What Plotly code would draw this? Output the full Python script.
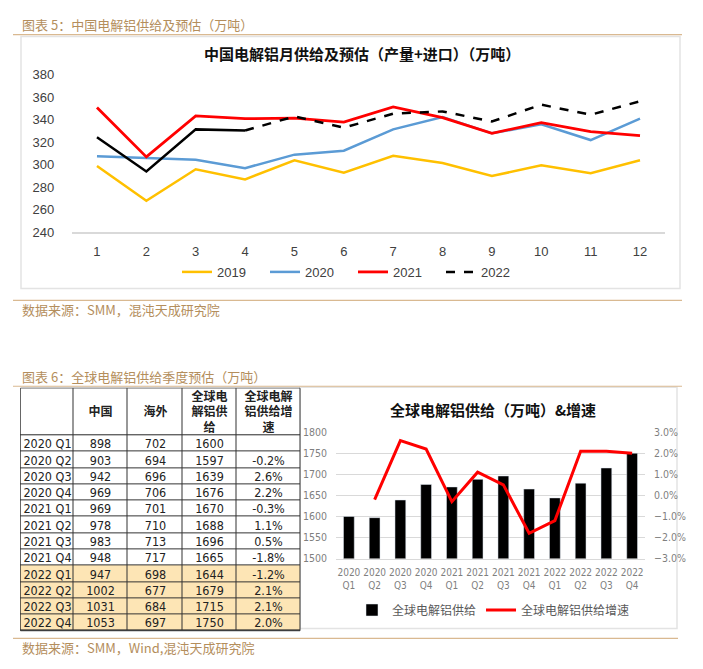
import plotly.graph_objects as go

# ---------------- data ----------------
months = [str(i) for i in range(1, 13)]
s2019 = [299, 268, 296, 287, 304, 293, 308, 301.5, 290, 299.5, 292.5, 304]
s2020 = [307.5, 306, 304.5, 297, 309, 312.5, 331.5, 342.5, 328, 336, 322, 341]
s2021 = [351, 307, 343.5, 341, 341.5, 338, 351.5, 342, 328, 337.5, 329.5, 326]
s2022 = [324.5, 294, 331.5, 330.5, 343, 333, 345.5, 347.5, 338.5, 353.5, 344.5, 356.5]
n_actual_2022 = 4

quarters = ["2020 Q1", "2020 Q2", "2020 Q3", "2020 Q4", "2021 Q1", "2021 Q2",
            "2021 Q3", "2021 Q4", "2022 Q1", "2022 Q2", "2022 Q3", "2022 Q4"]
china = [898, 903, 942, 969, 969, 978, 983, 948, 947, 1002, 1031, 1053]
overseas = [702, 694, 696, 706, 701, 710, 713, 717, 698, 677, 684, 697]
world = [1600, 1597, 1639, 1676, 1670, 1688, 1696, 1665, 1644, 1679, 1715, 1750]
growth = [None, -0.2, 2.6, 2.2, -0.3, 1.1, 0.5, -1.8, -1.2, 2.1, 2.1, 2.0]
forecast_from = 8  # index of first forecast quarter (2022 Q1)
table_header = ["", "<b>中国</b>", "<b>海外</b>", "<b>全球电<br>解铝供<br>给</b>",
                "<b>全球电解<br>铝供给增<br>速</b>"]

# ---------------- page geometry (body has an 8px margin) ----------------
OFF = 8
W, H = 703 - 2 * OFF, 669 - 2 * OFF
def px(x):
    return (x - OFF) / W
def py(y):
    return 1 - (y - OFF) / H

TAN = "#b48e5c"
CJK = "Noto Sans CJK SC"
NARROW = "Liberation Sans Narrow, DejaVu Sans Condensed, Liberation Sans, sans-serif"

fig = go.Figure()

# ---------------- top chart ----------------
fig.add_trace(go.Scatter(x=months, y=s2019, mode="lines", name="2019",
                         line=dict(color="#ffc000", width=2.5), xaxis="x", yaxis="y"))
fig.add_trace(go.Scatter(x=months, y=s2020, mode="lines", name="2020",
                         line=dict(color="#5b9bd5", width=2.5), xaxis="x", yaxis="y"))
fig.add_trace(go.Scatter(x=months, y=s2021, mode="lines", name="2021",
                         line=dict(color="#ff0000", width=2.8), xaxis="x", yaxis="y"))
fig.add_trace(go.Scatter(x=months[:n_actual_2022], y=s2022[:n_actual_2022], mode="lines",
                         name="2022", showlegend=False,
                         line=dict(color="#000000", width=2.5), xaxis="x", yaxis="y"))
fig.add_trace(go.Scatter(x=months[n_actual_2022 - 1:], y=s2022[n_actual_2022 - 1:], mode="lines",
                         name="2022", line=dict(color="#000000", width=2.5, dash="dash"),
                         xaxis="x", yaxis="y"))

# ---------------- bottom chart ----------------
quarter_ticks = [q.replace(" ", "<br>") for q in quarters]
fig.add_trace(go.Bar(x=quarter_ticks, y=world, name="全球电解铝供给", marker_color="#000000",
                     xaxis="x2", yaxis="y2", legend="legend2"))
fig.add_trace(go.Scatter(x=quarter_ticks, y=growth, mode="lines", name="全球电解铝供给增速",
                         line=dict(color="#ff0000", width=3), xaxis="x2", yaxis="y3",
                         legend="legend2", connectgaps=False))

# ---------------- table (heatmap bricks on their own axes) ----------------
col_widths = [53.3, 54, 55, 54, 63]
header_h, row_h = 48, 16.6
x_edges = [0]
for w in col_widths:
    x_edges.append(x_edges[-1] + w)
y_edges = [header_h + i * row_h for i in range(len(quarters) + 1)]
growth_txt = ["" if g is None else f"{g:.1f}%" for g in growth]
row_z = [[0 if i < forecast_from else 1] * 5 for i in range(len(quarters))]
row_text = [[quarters[i], str(china[i]), str(overseas[i]), str(world[i]), growth_txt[i]]
            for i in range(len(quarters))]
table_scale = [[0, "#ffffff"], [1, "#fde5b5"]]

fig.add_trace(go.Heatmap(x=x_edges, y=[0, header_h], z=[[0] * 5], text=[table_header],
                         texttemplate="%{text}", colorscale=table_scale, zmin=0, zmax=1,
                         showscale=False, xgap=1, ygap=1, hoverinfo="skip",
                         textfont=dict(family=CJK, size=12, color="#222222"),
                         xaxis="x3", yaxis="y4"))
fig.add_trace(go.Heatmap(x=x_edges, y=y_edges, z=row_z, text=row_text,
                         texttemplate="%{text}", colorscale=table_scale, zmin=0, zmax=1,
                         showscale=False, xgap=1, ygap=1, hoverinfo="skip",
                         textfont=dict(family=NARROW, size=12.5, color="#222222"),
                         xaxis="x3", yaxis="y4"))

# ---------------- layout ----------------
fig.update_layout(
    width=W, height=H, margin=dict(l=0, r=0, t=0, b=0),
    paper_bgcolor="#ffffff", plot_bgcolor="rgba(0,0,0,0)",
    showlegend=True,
    xaxis=dict(domain=[px(72.3), px(664.7)], type="category", range=[-0.5, 11.5],
               showgrid=False, showline=True, linecolor="#d9d9d9", linewidth=1.5, ticks="",
               tickfont=dict(family="Liberation Sans", size=13, color="#404040"),
               ticklabelstandoff=6, anchor="y"),
    yaxis=dict(domain=[py(230.3), py(69.3)], range=[240, 380], dtick=20, showgrid=False,
               zeroline=False, showline=False, ticks="",
               tickfont=dict(family="Liberation Sans", size=13, color="#404040"),
               ticklabelstandoff=17, anchor="x"),
    xaxis2=dict(domain=[px(336), px(645)], type="category", showgrid=False, tickangle=0,
                showline=True, linecolor="#d9d9d9", linewidth=1, ticks="",
                tickfont=dict(family=NARROW, size=10, color="#7f7f7f"),
                anchor="y2", ticklabelstandoff=4),
    yaxis2=dict(domain=[py(564.3), py(435)], range=[1500, 1800], dtick=50,
                showgrid=True, gridcolor="#d9d9d9", gridwidth=1, zeroline=False,
                ticks="", tickfont=dict(family=NARROW, size=10.5, color="#7f7f7f"),
                anchor="x2", ticklabelstandoff=8),
    yaxis3=dict(overlaying="y2", side="right", range=[-3, 3], dtick=1,
                tickformat=".1f", ticksuffix="%", showgrid=False, zeroline=False,
                ticks="", tickfont=dict(family=NARROW, size=10.5, color="#7f7f7f"),
                anchor="x2", ticklabelstandoff=8),
    xaxis3=dict(domain=[px(20.5), px(300)], range=[x_edges[0], x_edges[-1]], visible=False,
                anchor="y4", fixedrange=True),
    yaxis4=dict(domain=[py(638.2), py(390)], range=[y_edges[-1], 0], visible=False,
                anchor="x3", fixedrange=True),
    bargap=0.58,
    legend=dict(orientation="h", x=px(177), xanchor="left", y=py(271), yanchor="middle",
                font=dict(family="Liberation Sans", size=13, color="#404040"),
                entrywidth=43, entrywidthmode="pixels", bgcolor="rgba(0,0,0,0)",
                traceorder="normal"),
    legend2=dict(orientation="h", x=px(352), xanchor="left", y=py(617), yanchor="middle",
                 font=dict(family=CJK, size=12, color="#595959"),
                 bgcolor="rgba(0,0,0,0)"),
)

# captions, titles, sources
ann = [
    dict(text="图表 5：中国电解铝供给及预估（万吨）", x=px(20), y=py(18), color=TAN, size=13, xanchor="left"),
    dict(text="数据来源：SMM，混沌天成研究院", x=px(20), y=py(309), color=TAN, size=13, xanchor="left"),
    dict(text="图表 6：全球电解铝供给季度预估（万吨）", x=px(20), y=py(378), color=TAN, size=13, xanchor="left"),
    dict(text="数据来源：SMM，Wind,混沌天成研究院", x=px(20), y=py(655), color=TAN, size=13, xanchor="left"),
    dict(text="<b>中国电解铝月供给及预估（产量+进口）（万吨）</b>", x=px(362), y=py(47.7), color="#111111", size=15, xanchor="center"),
    dict(text="<b>全球电解铝供给（万吨）&增速</b>", x=px(493), y=py(412), color="#111111", size=15, xanchor="center"),
]
for a in ann:
    fig.add_annotation(text=a["text"], x=a["x"], y=a["y"], xref="paper", yref="paper",
                       xanchor=a["xanchor"], yanchor="middle", showarrow=False,
                       font=dict(family=CJK, size=a["size"], color=a["color"]))

shapes = [
    dict(type="rect", xref="paper", yref="paper", x0=px(21), x1=px(680), y0=py(288), y1=py(30),
         line=dict(color="#e3e3e3", width=1.5)),
    dict(type="rect", xref="paper", yref="paper", x0=px(300), x1=px(677), y0=py(636), y1=py(389),
         line=dict(color="#e3e3e3", width=1.5)),
    dict(type="line", xref="paper", yref="paper", x0=px(13), x1=px(682), y0=py(28), y1=py(28),
         line=dict(color="#d9b991", width=1.2)),
    dict(type="line", xref="paper", yref="paper", x0=px(13), x1=px(682), y0=py(300), y1=py(300),
         line=dict(color="#d9b991", width=1.2)),
    dict(type="line", xref="paper", yref="paper", x0=px(13), x1=px(682), y0=py(388), y1=py(388),
         line=dict(color="#d9b991", width=1.2)),
    dict(type="line", xref="paper", yref="paper", x0=px(13), x1=px(678), y0=py(646), y1=py(646),
         line=dict(color="#d9b991", width=1.2)),
    # dark backing of the table; the gaps between heatmap bricks form its grid lines
    dict(type="rect", xref="x3 domain", yref="y4 domain", x0=0, x1=1, y0=0, y1=1,
         fillcolor="#333333", line=dict(color="#333333", width=1)),
]
for s in shapes:
    fig.add_shape(layer="below", **s)

fig.write_html("out.html")
